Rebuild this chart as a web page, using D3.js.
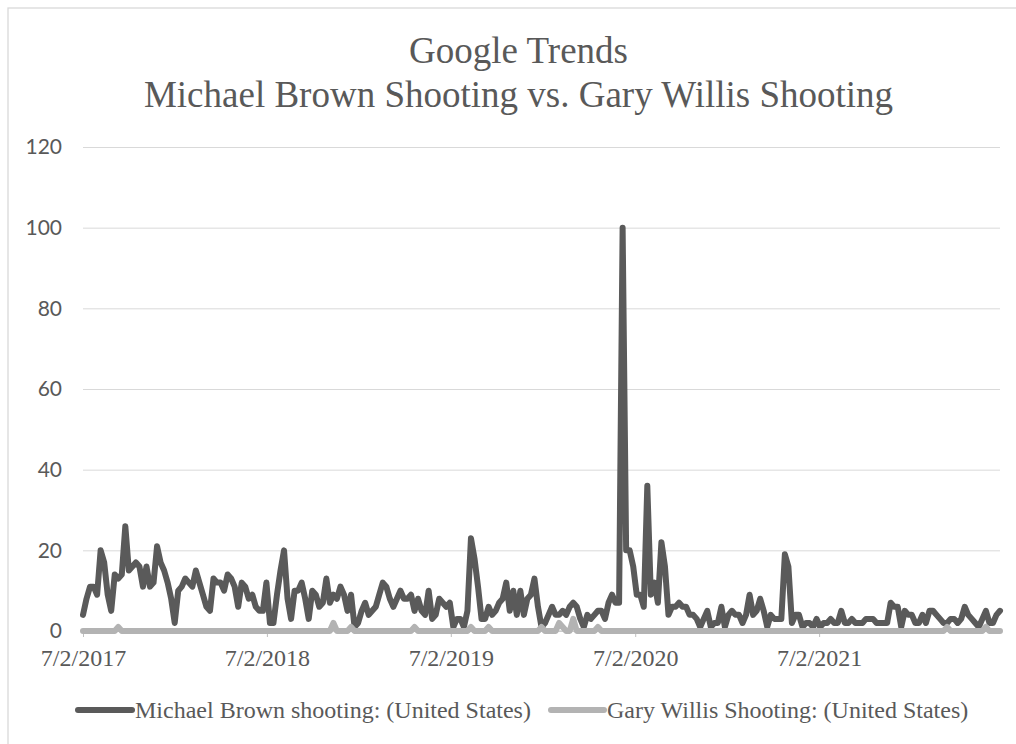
<!DOCTYPE html>
<html>
<head>
<meta charset="utf-8">
<script src="https://cdn.jsdelivr.net/npm/d3@7"></script>
<style>
  html, body { margin: 0; padding: 0; background: #fff; }
</style>
</head>
<body>
<div id="chart"></div>
<script>
// Weekly Google Trends values, first week starts 7/2/2017
const startDate = "2017-07-02";
const endDate = "2022-06-26";

const titleLines = ["Google Trends", "Michael Brown Shooting vs. Gary Willis Shooting"];
const seriesNames = ["Michael Brown shooting: (United States)", "Gary Willis Shooting: (United States)"];

const michaelBrown = [
  4, 8, 11, 11, 9, 20, 17, 9, 5, 14, 13, 14, 26,
  15, 16, 17, 16, 11, 16, 11, 12, 21, 17, 15, 12, 8,
  2, 10, 11, 13, 12, 11, 15, 12, 9, 6, 5, 13, 12, 12,
  10, 14, 13, 11, 6, 12, 11, 8, 9, 6, 5, 5,
  12, 2, 2, 9, 15, 20, 8, 3, 10, 10,
  12, 8, 3, 10, 9, 6, 7, 13, 7, 9,
  8, 11, 9, 5, 9, 1, 2, 5, 7, 4,
  5, 6, 9, 12, 11, 8, 6, 8, 10, 8,
  8, 9, 5, 8, 5, 4, 10, 3, 4, 8,
  7, 6,
  7, 1, 3, 3, 1, 5, 23, 18, 11, 3,
  3, 6, 4, 5, 7, 8, 12, 5, 10, 4,
  10, 4, 8, 9, 13, 6, 1, 2, 4, 6,
  4, 4, 5, 4, 6, 7, 6, 3, 1, 4,
  3, 4, 5, 5, 3, 7, 9, 7, 7,
  100, 20, 20, 16, 9, 9, 6, 36, 9, 12, 7, 22, 16, 4, 6, 6, 7,
  6, 6, 4, 4, 3, 1, 3, 5, 1, 2,
  2, 6, 1, 4, 5, 4, 4, 2, 4, 9,
  4, 5, 8, 5, 1, 4, 3, 3, 3,
  19, 16, 2, 4, 4, 1, 2, 2, 1, 3, 1, 2, 2, 3,
  2, 2, 5, 2, 2, 3, 2, 2, 2, 3,
  3, 3, 2, 2, 2, 2, 7, 6, 6, 1,
  5, 4, 4, 2, 2, 4, 2, 5, 5, 4,
  3, 2, 2, 3, 3, 2, 3, 6, 4, 3,
  2, 1, 3, 5, 2, 2, 4, 5
];

const garyWillis = [
  0, 0, 0, 0, 0, 0, 0, 0, 0, 0, 1, 0, 0,
  0, 0, 0, 0, 0, 0, 0, 0, 0, 0, 0, 0, 0,
  0, 0, 0, 0, 0, 0, 0, 0, 0, 0, 0, 0, 0, 0,
  0, 0, 0, 0, 0, 0, 0, 0, 0, 0, 0, 0,
  0, 0, 0, 0, 0, 0, 0, 0, 0, 0,
  0, 0, 0, 0, 0, 0, 0, 0, 0, 2,
  0, 0, 0, 0, 1, 0, 0, 0, 0, 0,
  0, 0, 0, 0, 0, 0, 0, 0, 0, 0,
  0, 0, 1, 0, 0, 0, 0, 0, 0, 0,
  0, 0,
  0, 0, 0, 0, 0, 0, 1, 0, 0, 0,
  0, 1, 0, 0, 0, 0, 0, 0, 0, 0,
  0, 0, 0, 0, 0, 0, 1, 0, 0, 0,
  0, 2, 1, 0, 0, 3, 0, 0, 0, 0,
  0, 0, 1, 0, 0, 0, 0, 0, 0,
  0, 0, 0, 0, 0, 0, 0, 0, 0, 0, 0, 0, 0, 0, 0, 0, 0,
  0, 0, 0, 0, 0, 0, 0, 0, 0, 0,
  0, 0, 0, 0, 0, 0, 0, 0, 0, 0,
  0, 0, 0, 0, 0, 0, 0, 0, 0,
  0, 0, 0, 0, 0, 0, 0, 0, 0, 0, 0, 0, 0, 0,
  0, 0, 0, 0, 0, 0, 0, 0, 0, 0,
  0, 0, 0, 0, 0, 0, 0, 0, 0, 0,
  0, 0, 0, 0, 0, 0, 0, 0, 0, 0,
  0, 0, 1, 0, 0, 0, 0, 0, 0, 0,
  0, 0, 0, 1, 0, 0, 0, 0
];

const yTicks = [0, 20, 40, 60, 80, 100, 120];
const xTickDates = ["2017-07-02", "2018-07-02", "2019-07-02", "2020-07-02", "2021-07-02"];
const xTickLabels = ["7/2/2017", "7/2/2018", "7/2/2019", "7/2/2020", "7/2/2021"];

const seriesColors = ["#5a5a5a", "#b3b3b3"];

const width = 1016, height = 744;
const textColor = "#595959";
const serif = "'Liberation Serif', 'Times New Roman', serif";

const parse = d3.timeParse("%Y-%m-%d");
const start = parse(startDate);
const dates = michaelBrown.map((d, i) => d3.timeDay.offset(start, 7 * i));

const svg = d3.select("#chart")
  .append("svg")
  .attr("width", width)
  .attr("height", height)
  .style("display", "block")
  .style("background", "#fff");

// chart area border
svg.append("rect")
  .attr("x", 8)
  .attr("y", 8)
  .attr("width", width + 10)
  .attr("height", height + 10)
  .attr("fill", "none")
  .attr("stroke", "#d9d9d9")
  .attr("stroke-width", 1.3);

const x = d3.scaleTime()
  .domain([start, parse(endDate)])
  .range([83, 1000]);

const y = d3.scaleLinear()
  .domain([0, 120])
  .range([631, 147]);

// title
svg.append("g")
  .selectAll("text")
  .data(titleLines)
  .join("text")
  .attr("x", 518.5)
  .attr("y", (d, i) => 63 + i * 44)
  .attr("text-anchor", "middle")
  .style("font-family", serif)
  .style("font-size", "37px")
  .style("fill", textColor)
  .text(d => d);

// gridlines + y labels
const yAxis = d3.axisLeft(y)
  .tickValues(yTicks)
  .tickSize(-(1000 - 83))
  .tickPadding(21);

const gy = svg.append("g")
  .attr("transform", "translate(83,0)")
  .call(yAxis);
gy.select(".domain").remove();
gy.selectAll(".tick line")
  .attr("stroke", "#d9d9d9")
  .attr("stroke-width", 1);
gy.selectAll(".tick text")
  .style("font-family", "Lato, 'Open Sans', sans-serif")
  .style("font-size", "21px")
  .style("fill", textColor);

// x axis with yearly ticks
const xAxis = d3.axisBottom(x)
  .tickValues(xTickDates.map(parse))
  .tickFormat((d, i) => xTickLabels[i])
  .tickSize(6)
  .tickPadding(12);

const gx = svg.append("g")
  .attr("transform", "translate(0,631)")
  .call(xAxis);
gx.select(".domain")
  .attr("stroke", "#bfbfbf")
  .attr("d", "M83,0H1000");
gx.selectAll(".tick line")
  .attr("stroke", "#bfbfbf");
gx.selectAll(".tick text")
  .style("font-family", serif)
  .style("font-size", "24px")
  .style("fill", textColor);

// series lines
const line = d3.line()
  .x((d, i) => x(dates[i]))
  .y(d => y(d));

[michaelBrown, garyWillis].forEach((series, k) => {
  svg.append("path")
    .datum(series)
    .attr("d", line)
    .attr("fill", "none")
    .attr("stroke", seriesColors[k])
    .attr("stroke-width", 6)
    .attr("stroke-linejoin", "round")
    .attr("stroke-linecap", "round");
});

// legend
const legendItems = [
  { x1: 78, x2: 132, tx: 135 },
  { x1: 551, x2: 604, tx: 607 }
];
const legend = svg.append("g");
legendItems.forEach((item, k) => {
  legend.append("line")
    .attr("x1", item.x1)
    .attr("x2", item.x2)
    .attr("y1", 710)
    .attr("y2", 710)
    .attr("stroke", seriesColors[k])
    .attr("stroke-width", 6)
    .attr("stroke-linecap", "round");
  legend.append("text")
    .attr("x", item.tx)
    .attr("y", 718)
    .style("font-family", serif)
    .style("font-size", "24px")
    .style("fill", textColor)
    .text(seriesNames[k]);
});
</script>
</body>
</html>
